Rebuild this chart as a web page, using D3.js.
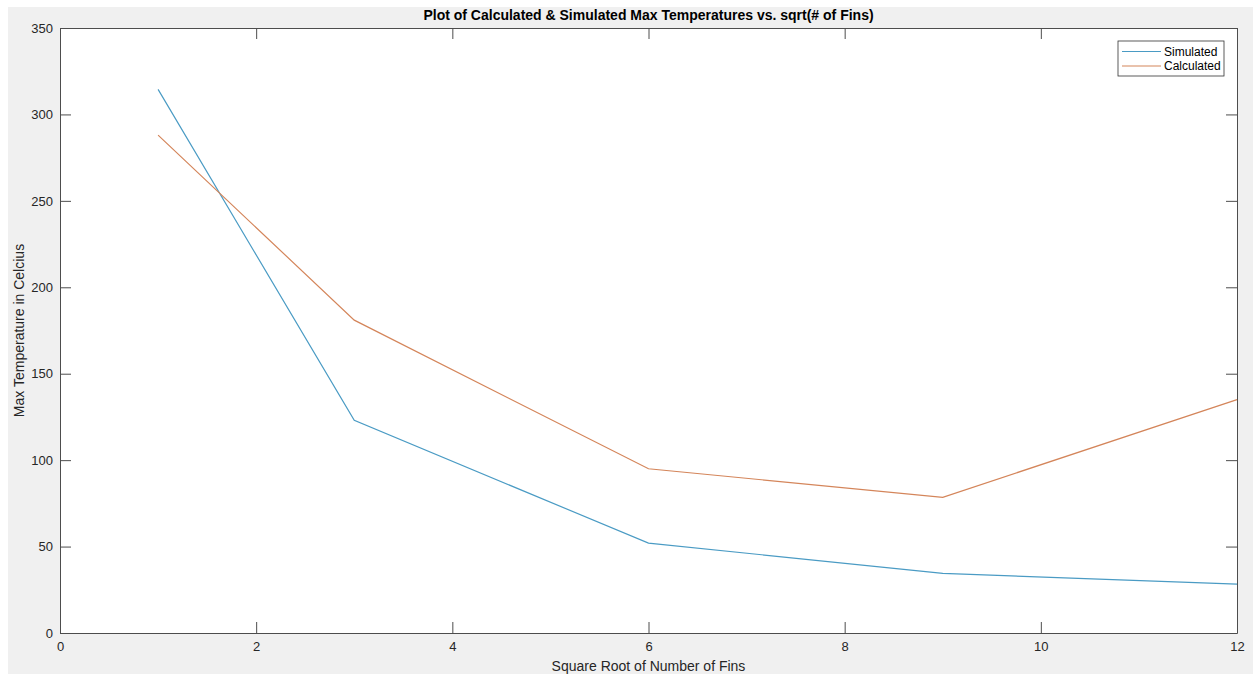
<!DOCTYPE html>
<html>
<head>
<meta charset="utf-8">
<script src="https://cdn.jsdelivr.net/npm/d3@7"></script>
<style>
  body { margin: 0; background: #fff; }
  text { font-family: "Liberation Sans", Arial, sans-serif; }
</style>
</head>
<body>
<div id="chart"></div>
<script>
// data
const fins = [1, 3, 6, 9, 12];
const simulated = [314.5, 123, 52, 34.5, 28.3];
const calculated = [288, 181, 95, 78.5, 135];
const xTicks = [0, 2, 4, 6, 8, 10, 12];
const yTicks = [0, 50, 100, 150, 200, 250, 300, 350];
const seriesNames = ["Simulated", "Calculated"];

const W = 1253, H = 674;
const margin = { top: 28, right: 16, bottom: 41, left: 60 };
const width = W - margin.left - margin.right;
const height = H - margin.top - margin.bottom;

const svg = d3.select("#chart").append("svg")
  .attr("width", W)
  .attr("height", H);

// figure background
svg.append("rect")
  .attr("x", 8).attr("y", 7)
  .attr("width", W - 8).attr("height", H - 7)
  .attr("fill", "#f0f0f0");

const g = svg.append("g")
  .attr("transform", `translate(${margin.left},${margin.top})`);

g.append("rect")
  .attr("width", width).attr("height", height)
  .attr("fill", "#fff");

const x = d3.scaleLinear().domain([0, 12]).range([0, width]);
const y = d3.scaleLinear().domain([0, 350]).range([height, 0]);

const axisColor = "#4d4d4d";
const styleAxis = (sel, labels) => {
  sel.select(".domain").attr("stroke", axisColor);
  sel.selectAll(".tick line").attr("stroke", axisColor);
  sel.selectAll(".tick text")
    .attr("fill", labels ? "#262626" : "none")
    .attr("font-size", "13px");
};

// bottom / left axes with inward ticks
g.append("g")
  .attr("transform", `translate(0,${height})`)
  .call(d3.axisBottom(x).tickValues(xTicks).tickSize(-11).tickSizeOuter(0).tickPadding(9))
  .call(sel => styleAxis(sel, true));

g.append("g")
  .call(d3.axisLeft(y).tickValues(yTicks).tickSize(-11).tickSizeOuter(0).tickPadding(7))
  .call(sel => styleAxis(sel, true));

// top / right (box)
g.append("g")
  .call(d3.axisTop(x).tickValues(xTicks).tickSize(-11).tickSizeOuter(0).tickFormat(""))
  .call(sel => styleAxis(sel, false));

g.append("g")
  .attr("transform", `translate(${width},0)`)
  .call(d3.axisRight(y).tickValues(yTicks).tickSize(-11).tickSizeOuter(0).tickFormat(""))
  .call(sel => styleAxis(sel, false));

const colors = ["#4a9bc4", "#d4855a"];
const seriesData = [simulated, calculated];

const line = d3.line()
  .x((d, i) => x(fins[i]))
  .y(d => y(d));

seriesData.forEach((vals, k) => {
  g.append("path")
    .datum(vals)
    .attr("fill", "none")
    .attr("stroke", colors[k])
    .attr("stroke-width", 1.2)
    .attr("d", line);
});

// title
svg.append("text")
  .attr("x", margin.left + width / 2)
  .attr("y", 20)
  .attr("text-anchor", "middle")
  .attr("font-size", "14px")
  .attr("font-weight", "bold")
  .attr("fill", "#000")
  .text("Plot of Calculated & Simulated Max Temperatures vs. sqrt(# of Fins)");

// axis labels
svg.append("text")
  .attr("x", margin.left + width / 2)
  .attr("y", 671)
  .attr("text-anchor", "middle")
  .attr("font-size", "14px")
  .attr("fill", "#262626")
  .text("Square Root of Number of Fins");

svg.append("text")
  .attr("transform", `translate(24,${margin.top + height / 2}) rotate(-90)`)
  .attr("text-anchor", "middle")
  .attr("font-size", "14px")
  .attr("fill", "#262626")
  .text("Max Temperature in Celcius");

// legend
const lg = svg.append("g").attr("transform", "translate(1118,41)");
lg.append("rect")
  .attr("width", 106).attr("height", 35)
  .attr("fill", "#fff")
  .attr("stroke", "#333")
  .attr("stroke-width", 0.8);

seriesNames.forEach((name, k) => {
  const yy = 10.5 + k * 14.5;
  lg.append("line")
    .attr("x1", 4).attr("x2", 43)
    .attr("y1", yy).attr("y2", yy)
    .attr("stroke", colors[k])
    .attr("stroke-width", 1.2);
  lg.append("text")
    .attr("x", 46).attr("y", yy + 4)
    .attr("font-size", "12px")
    .attr("fill", "#000")
    .text(name);
});
</script>
</body>
</html>
